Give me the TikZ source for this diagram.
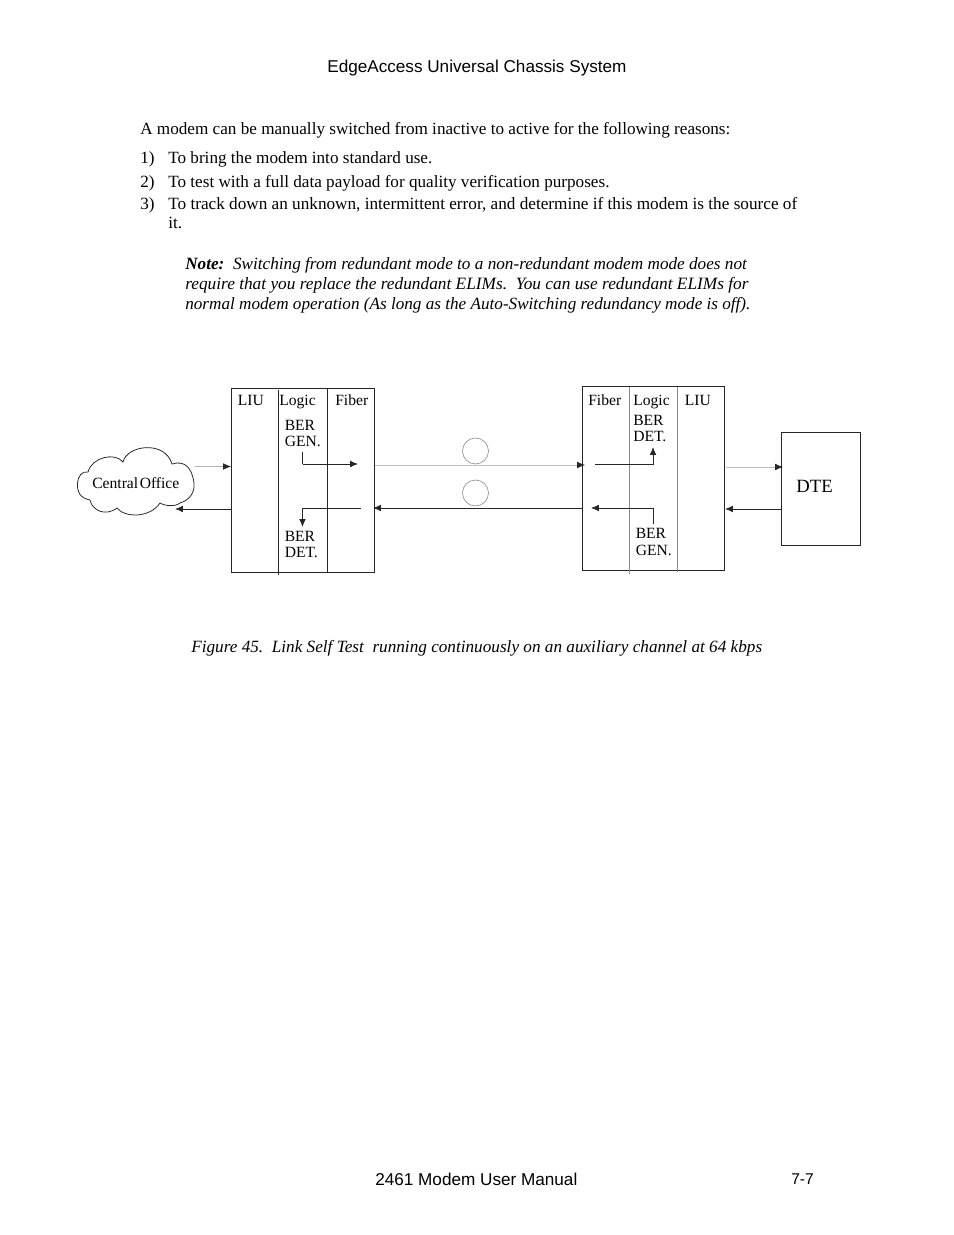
\documentclass[tikz,border=0pt]{standalone}
\usepackage{fontspec}
\setmainfont{Liberation Serif}
\newfontfamily\hd{Liberation Sans}
\usetikzlibrary{arrows.meta}
\tikzset{
 x=0.6415pt,y=-0.6415pt,
 txt/.style={inner sep=0pt,anchor=base west,font=\fontsize{11}{11}\selectfont},
 lbl/.style={inner sep=0pt,anchor=base west,font=\fontsize{10}{10}\selectfont},
 hdt/.style={inner sep=0pt,anchor=base west,font=\hd\fontsize{11}{11}\selectfont},
 blk/.style={draw=black!85,line width=0.5pt,fill=none},
 gline/.style={draw=black!45,line width=0.4pt},
 arr/.style={draw=black!85,line width=0.5pt,-{Latex[length=5pt,width=4.2pt]}},
 garr/.style={draw=black!45,line width=0.4pt,-{Latex[length=5pt,width=4.2pt,black!85]}},
}
\begin{document}
\begin{tikzpicture}
\useasboundingbox (0,0) rectangle (954,1235);
\node[hdt] (h1) at (327,72) {EdgeAccess Universal Chassis System};
\node[txt] (t1) at (140,134) {A modem can be manually switched from inactive to active for the following reasons:};
\node[txt] (l1n) at (140,163) {1)};\node[txt] (l1) at (168,163) {To bring the modem into standard use.};
\node[txt] (l2n) at (140,187) {2)};\node[txt] (l2) at (168,187) {To test with a full data payload for quality verification purposes.};
\node[txt] (l3n) at (140,209) {3)};\node[txt,font=\fontsize{11.03}{11}\selectfont] (l3) at (168,209) {To track down an unknown, intermittent error, and determine if this modem is the source of};
\node[txt] (l3b) at (168,228) {it.};
\node[txt,font=\fontsize{11.03}{11}\selectfont] (n1) at (185,269) {\textbf{\textit{Note:}}\textit{\ \ Switching from redundant mode to a non-redundant modem mode does not}};
\node[txt,font=\fontsize{11.1}{11}\selectfont] (n2) at (185,289) {\textit{require that you replace the redundant ELIMs.\ \ You can use redundant ELIMs for}};
\node[txt] (n3) at (185,309) {\textit{normal modem operation (As long as the Auto-Switching redundancy mode is off).}};
% left box
\draw[blk] (231.5,388.5) rectangle (374.5,572.5);
\coordinate (la) at (278.5,390); \coordinate (lb) at (278.5,575);
\coordinate (lc) at (327.5,388); \coordinate (ld) at (327.5,573);
\draw[blk] (la)--(lb); \draw[blk] (lc)--(ld);
% right box
\draw[blk] (582.5,386.5) rectangle (724.5,570.5);
\coordinate (ra) at (629.5,387); \coordinate (rb) at (629.5,574);
\coordinate (rc) at (677.5,387); \coordinate (rd) at (677.5,572);
\draw[gline] (ra)--(rb); \draw[gline] (rc)--(rd);
% DTE
\draw[blk] (781.5,432.5) rectangle (860.5,545.5);
\node[inner sep=0pt,anchor=base west,font=\fontsize{12}{12}\selectfont] (dtet) at (796,492) {DTE};
% labels left
\node[lbl] (a1) at (237.5,405) {LIU};
\node[lbl] (a2) at (279,405) {Logic};
\node[lbl] (a3) at (335,405) {Fiber};
\node[lbl] (a4) at (284.5,430) {BER};
\node[lbl] (a5) at (284.5,446) {GEN.};
\node[lbl] (a6) at (284.5,541) {BER};
\node[lbl] (a7) at (284.5,557) {DET.};
% labels right
\node[lbl] (b1) at (588,405) {Fiber};
\node[lbl] (b2) at (633,405) {Logic};
\node[lbl] (b3) at (684.5,405) {LIU};
\node[lbl] (b4) at (633,425) {BER};
\node[lbl] (b5) at (633,441) {DET.};
\node[lbl] (b6) at (635.5,538) {BER};
\node[lbl] (b7) at (635.5,555) {GEN.};
% cloud
\draw[blk] (77.5,483)
 .. controls (78,476) and (82,471) .. (88,472)
 .. controls (92,457) and (115,452) .. (123,462)
 .. controls (127,445) and (165,440) .. (172,464)
 .. controls (185,460) and (192,468) .. (194,483)
 .. controls (195,492) and (190,500) .. (180,503)
 .. controls (175,507) and (165,506) .. (160,503)
 .. controls (150,518) and (125,518) .. (117,508)
 .. controls (105,517) and (92,510) .. (90,500)
 .. controls (80,498) and (77,492) .. (77.5,483) -- cycle;
\node[inner sep=0pt,anchor=base west,font=\fontsize{10}{10}\selectfont] (co) at (92,488) {Central\hspace{1pt}Office};
% circles
\node[draw=black!45,line width=0.4pt,circle,minimum size=26pt*0.6415,inner sep=0pt] (c1) at (475.5,451) {};
\node[draw=black!45,line width=0.4pt,circle,minimum size=26pt*0.6415,inner sep=0pt] (c2) at (475.5,493) {};
% connectors
\coordinate (e1) at (195,466.5); \coordinate (e1b) at (231,466.5);
\draw[garr,draw=black!30] (e1)--(e1b);
\coordinate (e2) at (231,509); \coordinate (e2b) at (175,509);
\draw[arr] (e2)--(e2b);
\coordinate (g1) at (302.5,452); \coordinate (g2) at (302.5,464); \coordinate (g3) at (358,464);
\draw[draw=black!85,line width=0.5pt] (g1)--(g2);
\draw[arr] (g2)--(g3);
\coordinate (d1) at (361,508); \coordinate (d2) at (302.5,508); \coordinate (d3) at (302.5,527);
\draw[arr] (d1)--(d2)--(d3);
\coordinate (f1) at (375,465); \coordinate (f2) at (585,465);
\draw[garr,draw=black!25] (f1)--(f2);
\coordinate (f3) at (583,508); \coordinate (f4) at (373,508);
\draw[arr] (f3)--(f4);
\coordinate (r1) at (595,464.5); \coordinate (r2) at (653,464.5); \coordinate (r3) at (653,447);
\draw[arr] (r1)--(r2)--(r3);
\coordinate (s2) at (653,508); \coordinate (s3) at (591,508);
\coordinate (s0) at (653,524);
\draw[arr] (s0)--(s2)--(s3);
\coordinate (u1) at (726,467); \coordinate (u2) at (783,467);
\draw[garr,draw=black!25] (u1)--(u2);
\coordinate (v1) at (782,509); \coordinate (v2) at (725,509);
\draw[arr] (v1)--(v2);
% caption and footer
\node[txt,font=\fontsize{11.03}{11}\selectfont] (cap) at (191,652) {\textit{Figure 45.\ \ Link Self Test\ \ running continuously on an auxiliary channel at 64 kbps}};
\node[hdt] (f) at (375,1185) {2461 Modem User Manual};
\node[hdt,font=\hd\fontsize{10}{10}\selectfont] (p) at (791,1184) {7-7};
\end{tikzpicture}
\end{document}
